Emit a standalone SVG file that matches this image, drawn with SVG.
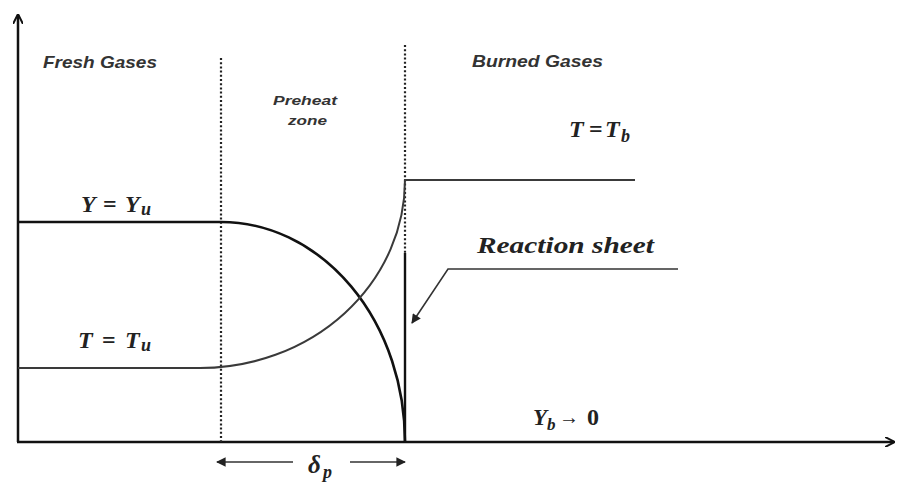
<svg xmlns="http://www.w3.org/2000/svg" width="900" height="482" viewBox="0 0 900 482">
<style>
.axis{stroke:#111;stroke-width:2.5;fill:none}
.dot{stroke:#222;stroke-width:2.2;stroke-dasharray:2 2.2;fill:none}
.ycurve{stroke:#111;stroke-width:2.6;fill:none}
.tcurve{stroke:#3a3a3a;stroke-width:2;fill:none}
.thin{stroke:#333;stroke-width:1.6;fill:none}
.zone{font-family:"Liberation Sans",sans-serif;font-style:italic;font-weight:bold;fill:#333}
.math{font-family:"Liberation Serif",serif;font-style:italic;font-weight:bold;fill:#222}
.mathr{font-family:"Liberation Serif",serif;font-style:normal;fill:#222}
</style>
<defs>
<marker id="ahs" viewBox="0 0 10 10" refX="9" refY="5" markerWidth="7" markerHeight="6" orient="auto" markerUnits="strokeWidth"><path d="M0,0 L10,5 L0,10 z" fill="#222"/></marker>
<marker id="ahopen" viewBox="0 0 10 10" refX="9" refY="5" markerWidth="4" markerHeight="4" orient="auto" markerUnits="strokeWidth"><path d="M0,0 L10,5 L0,10" fill="none" stroke="#111" stroke-width="2"/></marker>
</defs>
<rect width="900" height="482" fill="#fff"/>
<g id="connectors">
<line class="axis" x1="18" y1="442" x2="18" y2="15" marker-end="url(#ahopen)"/>
<line class="axis" x1="17" y1="442" x2="894" y2="442" marker-end="url(#ahopen)"/>
<line class="dot" x1="221" y1="58" x2="221" y2="442"/>
<line class="dot" x1="405" y1="45" x2="405" y2="255"/>
<path class="ycurve" d="M18,222 L221,222 A184,220 0 0 1 405,442"/>
<path class="tcurve" d="M18,368 L200,368 A205,188 0 0 0 405,180 L635,180"/>
<line class="ycurve" x1="405" y1="253" x2="405" y2="442" style="stroke-width:2.4"/>
<polyline class="thin" points="678,269 448,269 412,323" marker-end="url(#ahs)"/>
<line class="thin" x1="293" y1="462" x2="217" y2="462" marker-end="url(#ahs)"/>
<line class="thin" x1="350" y1="462" x2="405" y2="462" marker-end="url(#ahs)"/>
</g>
<g id="fresh-gases"><text class="zone" x="43" y="68" font-size="17" textLength="114" lengthAdjust="spacingAndGlyphs">Fresh Gases</text></g>
<g id="preheat-zone">
<text class="zone" x="273" y="105" font-size="13" textLength="64" lengthAdjust="spacingAndGlyphs">Preheat</text>
<text class="zone" x="288" y="125" font-size="13" textLength="39" lengthAdjust="spacingAndGlyphs">zone</text>
</g>
<g id="burned-gases"><text class="zone" x="472" y="67" font-size="17" textLength="131" lengthAdjust="spacingAndGlyphs">Burned Gases</text></g>
<g id="label-Tb"><text class="math" font-size="24" y="137"><tspan x="569">T</tspan><tspan class="mathr" font-weight="bold" x="589">=</tspan><tspan x="605">T</tspan><tspan x="621" dy="5" font-size="18">b</tspan></text></g>
<g id="label-Yu"><text class="math" font-size="24" font-weight="600" y="212"><tspan x="81">Y</tspan><tspan class="mathr" x="103">=</tspan><tspan x="125">Y</tspan><tspan x="141" dy="3" font-size="18">u</tspan></text></g>
<g id="label-Tu"><text class="math" font-size="24" y="348"><tspan x="78">T</tspan><tspan class="mathr" x="102">=</tspan><tspan x="125">T</tspan><tspan x="141" dy="3" font-size="18">u</tspan></text></g>
<g id="reaction-sheet"><text class="math" font-size="24" x="477" y="253" textLength="177" lengthAdjust="spacingAndGlyphs">Reaction sheet</text></g>
<g id="label-Yb"><text class="math" font-size="23" y="425"><tspan x="533">Y</tspan><tspan x="547" dy="5" font-size="17">b</tspan><tspan class="mathr" x="559" dy="-6" font-size="20">→</tspan><tspan class="mathr" x="587" dy="1" font-size="24">0</tspan></text></g>
<g id="label-delta"><text class="math" font-size="25" y="473"><tspan x="308">δ</tspan><tspan x="323" dy="5" font-size="18">p</tspan></text></g>
</svg>
